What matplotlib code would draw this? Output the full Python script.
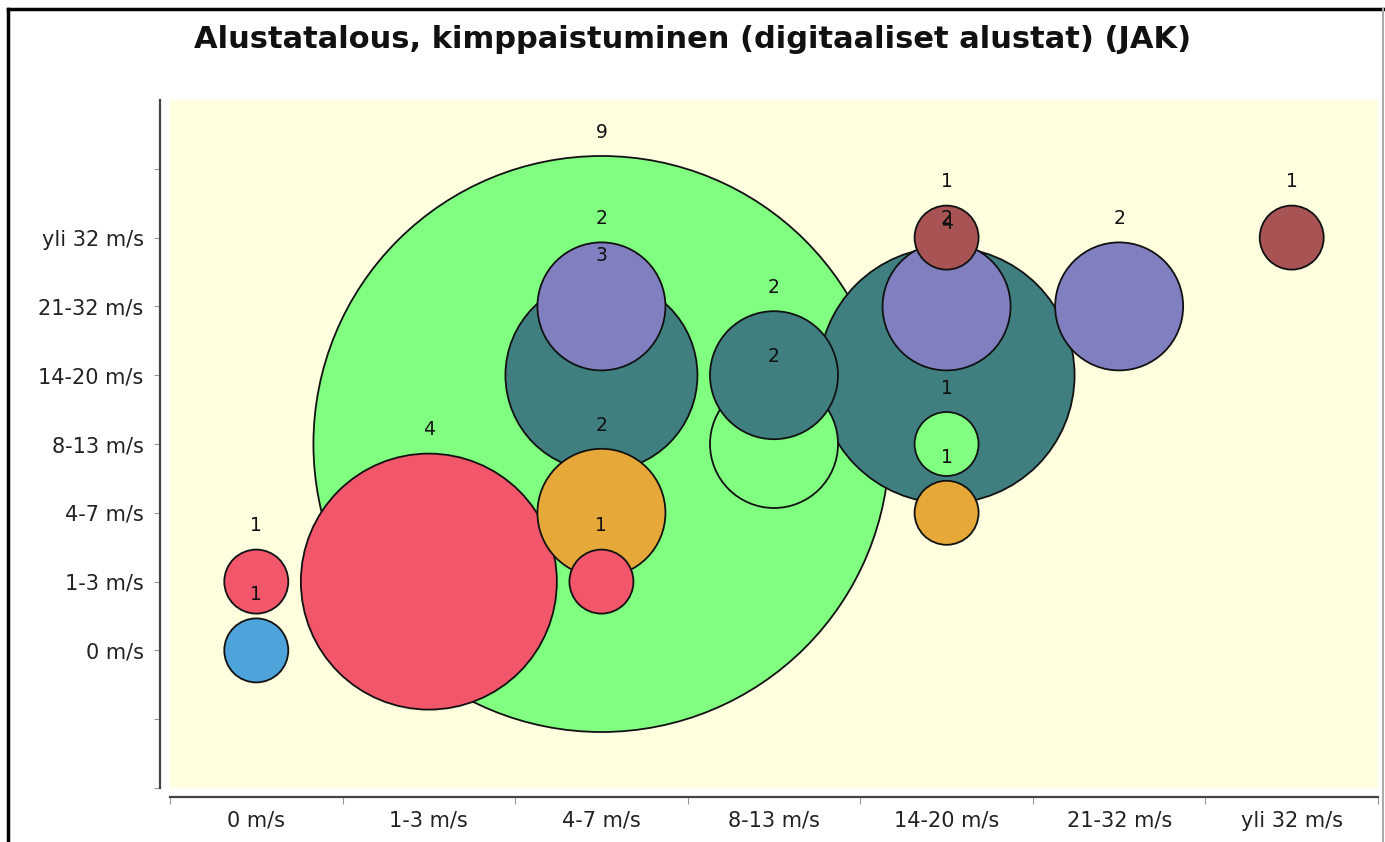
import matplotlib
matplotlib.use("Agg")
import numpy as np
from matplotlib import pyplot as plt
from matplotlib.patches import Ellipse
from matplotlib.lines import Line2D

# ------------------------------------------------------------------------------
#  Data
# ------------------------------------------------------------------------------
categories = ["0 m/s", "1-3 m/s", "4-7 m/s", "8-13 m/s", "14-20 m/s",
              "21-32 m/s", "yli 32 m/s"]

# one series per y-category: (x index, value)
series_y = [0, 1, 2, 3, 4, 5, 6]
series_colors = ["#4fa3db", "#f2566a", "#e6a838", "#80ff80", "#3f7f7f",
                 "#8080c0", "#a85454"]
series_x = [
    [0],
    [0, 1, 2],
    [2, 4],
    [2, 3, 4],
    [2, 3, 4],
    [2, 4, 5],
    [4, 6],
]
series_z = [
    [1],
    [1, 4, 1],
    [2, 1],
    [9, 2, 1],
    [3, 2, 4],
    [2, 2, 2],
    [1, 1],
]

TITLE = "Alustatalous, kimppaistuminen (digitaaliset alustat) (JAK)"

# ------------------------------------------------------------------------------
#  Plot
# ------------------------------------------------------------------------------
W, H = 1385, 842
fig = plt.figure(figsize=(W / 100, H / 100), dpi=100)
ax = fig.add_axes([170 / W, 1 - 788 / H, (1378 - 170) / W, (788 - 100) / H])
ax.set_facecolor("#ffffe0")
ax.set_xlim(-0.5, 6.5)
ax.set_ylim(-2, 8)

# bubble diameter in pixels per unit of value
PX_PER_VALUE = 64.0
px_x = (1378 - 170) / 7.0
px_y = (788 - 100) / 10.0

bubbles = []
for yi, col, xs, zs in zip(series_y, series_colors, series_x, series_z):
    for xv, zv in zip(xs, zs):
        bubbles.append((xv, yi, zv, col))

# bigger bubbles first so the small ones stay visible
order = sorted(range(len(bubbles)), key=lambda i: -bubbles[i][2])
for i in order:
    xv, yv, zv, col = bubbles[i]
    d = zv * PX_PER_VALUE
    ax.add_patch(Ellipse((xv, yv), d / px_x, d / px_y, facecolor=col,
                         edgecolor="#111111", linewidth=1.3, zorder=2))

for xv, yv, zv, col in bubbles:
    top = yv + zv * PX_PER_VALUE / 2 / px_y
    ax.annotate(str(zv), (xv, top), xytext=(0, 17), textcoords="offset points",
                ha="center", va="center", fontsize=13.5, color="#111111",
                zorder=5)

# axes styling
for s in ["top", "right"]:
    ax.spines[s].set_visible(False)
ax.spines["left"].set_position(("outward", 7))
ax.spines["bottom"].set_position(("outward", 6.5))
for s in ["left", "bottom"]:
    ax.spines[s].set_color("#444444")
    ax.spines[s].set_linewidth(1.6)

ax.set_yticks(np.arange(-2, 8))
ax.set_yticklabels(["", ""] + categories + [""])
ax.set_xticks(np.arange(-0.5, 7, 1.0))
ax.set_xticklabels([])
ax.set_xticks(np.arange(0, 7), minor=True)
ax.set_xticklabels(categories, minor=True)
ax.tick_params(axis="y", length=4, color="#999999", labelsize=15,
               labelcolor="#222222", pad=8)
ax.tick_params(axis="x", which="major", length=5, color="#999999")
ax.tick_params(axis="x", which="minor", length=0, labelsize=15,
               labelcolor="#222222", pad=10)

fig.text(0.5, 1 - 40 / H, TITLE, ha="center", va="center", fontsize=22,
         fontweight="bold", color="#111111")

# window frame
fig.add_artist(Line2D([8 / W, 1], [1 - 9 / H, 1 - 9 / H], color="black",
                      linewidth=2.5, transform=fig.transFigure))
fig.add_artist(Line2D([8 / W, 8 / W], [0, 1 - 9 / H], color="black",
                      linewidth=2.5, transform=fig.transFigure))
fig.add_artist(Line2D([1383 / W, 1383 / W], [0, 1 - 9 / H], color="#aaaaaa",
                      linewidth=1.5, transform=fig.transFigure))

fig.savefig("out.png", dpi=100)
